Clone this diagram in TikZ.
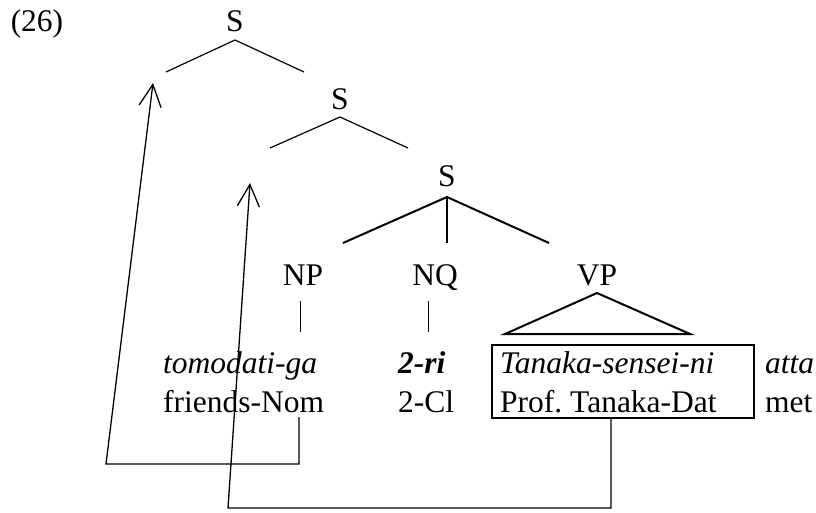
\documentclass[tikz,border=0pt]{standalone}
\usepackage{fontspec}
\setmainfont{Liberation Serif}
\usetikzlibrary{arrows.meta}
\frenchspacing
\begin{document}
\begin{tikzpicture}[x=1pt,y=-1pt,
  every node/.style={inner sep=0pt, font=\fontsize{31.5}{39}\selectfont},
  lbl/.style={anchor=base},
  word/.style={anchor=base west},
  thinbranch/.style={line width=1.2pt},
  thickbranch/.style={line width=2pt},
  bar/.style={line width=1pt},
  movearrow/.style={line width=1.3pt, -{Straight Barb[length=22pt,width=22pt,line width=1.3pt]}}]
\useasboundingbox (0,0) rectangle (816,513);

% example number and category labels
\node[lbl] (ex) at (37,32) {(26)};
\node[lbl] (s1) at (235,32) {S};
\node[lbl] (s2) at (340,110) {S};
\node[lbl] (s3) at (447,187) {S};
\node[lbl] (np) at (303,285) {NP};
\node[lbl] (nq) at (435,285) {NQ};
\node[lbl] (vp) at (597,285) {VP};

% words and glosses
\node[word] (w1) at (163,373) {\textit{tomodati-ga}};
\node[word] (g1) at (163,412) {friends-Nom};
\node[word] (w2) at (398,373) {\textbf{\textit{2-ri}}};
\node[word] (g2) at (398,412) {2-Cl};
\node[word] (w3) at (500,373) {\textit{Tanaka-sensei-ni}};
\node[word] (g3) at (500,412) {Prof. Tanaka-Dat};
\node[word] (w4) at (765,373) {\textit{atta}};
\node[word] (g4) at (765,412) {met};

% boxed constituent
\node[draw, line width=1.6pt, minimum width=262pt, minimum height=73pt] (box) at (623,381.5) {};

% branch points
\coordinate (s1a) at (235,40);
\coordinate (s1l) at (166,72);
\coordinate (s1r) at (304,72);
\coordinate (s2a) at (340,117);
\coordinate (s2l) at (270,148);
\coordinate (s2r) at (408,148);
\coordinate (s3a) at (447,197);
\coordinate (s3l) at (343,243);
\coordinate (s3m) at (447,243);
\coordinate (s3r) at (549,243);
\coordinate (npt) at (300,301);
\coordinate (npb) at (300,332);
\coordinate (nqt) at (428,301);
\coordinate (nqb) at (428,332);
\coordinate (vpa) at (597,293);
\coordinate (vpl) at (505,334);
\coordinate (vpr) at (690,334);

% tree
\draw[thinbranch] (s1l) -- (s1a) -- (s1r);
\draw[thinbranch] (s2l) -- (s2a) -- (s2r);
\draw[thickbranch] (s3l) -- (s3a) -- (s3r);
\draw[thickbranch] (s3a) -- (s3m);
\draw[bar] (npt) -- (npb);
\draw[bar] (nqt) -- (nqb);
\draw[thickbranch] (vpa) -- (vpl) -- (vpr) -- cycle;

% movement arrows
\coordinate (m1s) at (299,417);
\coordinate (m1c) at (299,464);
\coordinate (m1d) at (106,464);
\coordinate (m1t) at (153,83);
\draw[movearrow] (m1s) -- (m1c) -- (m1d) -- (m1t);

\coordinate (m2s) at (611,418);
\coordinate (m2c) at (611,508);
\coordinate (m2d) at (228,508);
\coordinate (m2t) at (250,183);
\draw[movearrow] (m2s) -- (m2c) -- (m2d) -- (m2t);
\end{tikzpicture}
\end{document}
